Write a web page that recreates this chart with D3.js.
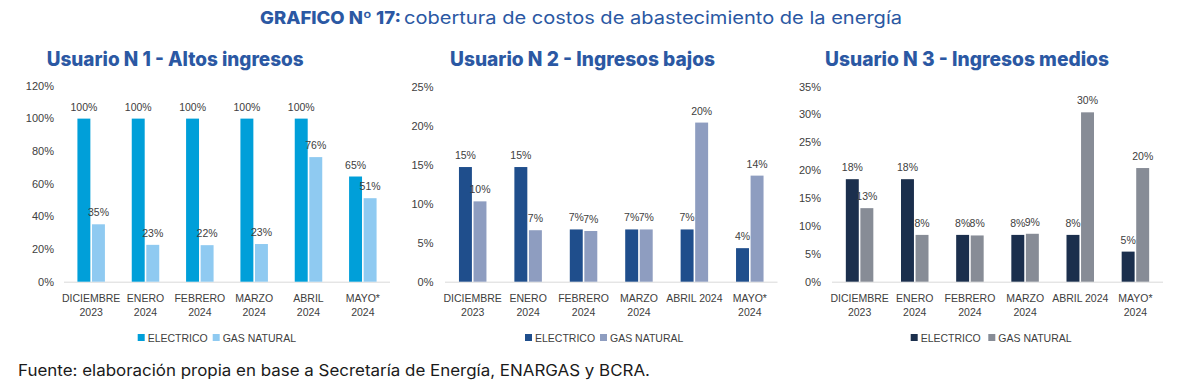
<!DOCTYPE html>
<html><head><meta charset="utf-8">
<script src="https://cdn.jsdelivr.net/npm/d3@7"></script>
<style>body{margin:0;background:#fff}svg{display:block}</style>
</head><body>
<svg id="c" width="1188" height="386"></svg>
<script>
// ---- data ----
const catsA = ["DICIEMBRE\n2023","ENERO\n2024","FEBRERO\n2024","MARZO\n2024","ABRIL\n2024","MAYO*\n2024"];
const catsB = ["DICIEMBRE\n2023","ENERO\n2024","FEBRERO\n2024","MARZO\n2024","ABRIL 2024","MAYO*\n2024"];
const seriesNames = ["ELECTRICO","GAS NATURAL"];
const u1Electrico = [100,100,100,100,100,64.5];
const u1Gas = [35.2,22.6,22.4,23.1,76.4,51.2];
const u1Ticks = [0,20,40,60,80,100,120];
const u2Electrico = [14.7,14.7,6.7,6.7,6.7,4.3];
const u2Gas = [10.3,6.6,6.5,6.7,20.4,13.6];
const u2Ticks = [0,5,10,15,20,25];
const u3Electrico = [18.4,18.4,8.4,8.4,8.4,5.4];
const u3Gas = [13.2,8.4,8.3,8.6,30.4,20.4];
const u3Ticks = [0,5,10,15,20,25,30,35];
const titles = ["Usuario N 1 - Altos ingresos","Usuario N 2 - Ingresos bajos","Usuario N 3 - Ingresos medios"];

const svg = d3.select("#c");
const BLUE = "#2b58a3";
const TXT = "#404040";
const FONT = "'Liberation Sans', Arial, sans-serif";
const TFONT = "Inter, 'Open Sans', sans-serif";

// main title
const mt = svg.append("text").attr("y",24).attr("font-family",TFONT).attr("font-size",17.5).attr("fill",BLUE);
mt.append("tspan").attr("x",260).attr("font-weight",800).attr("textLength",141).attr("lengthAdjust","spacingAndGlyphs").text("GRAFICO Nº 17:");
mt.append("tspan").attr("x",404).attr("font-weight",400).attr("textLength",498).attr("lengthAdjust","spacingAndGlyphs").text("cobertura de costos de abastecimiento de la energía");

// footer
svg.append("text").attr("x",18).attr("y",376).attr("font-family",TFONT).attr("font-size",15.5)
  .attr("fill","#1a1a1a").attr("textLength",632).attr("lengthAdjust","spacingAndGlyphs")
  .text("Fuente: elaboración propia en base a Secretaría de Energía, ENARGAS y BCRA.");

const panels = [
  {cats:catsA, e:u1Electrico, g:u1Gas, ticks:u1Ticks, max:120, x0:64, x1:390, yTop:86, lab:54,
   colors:["#009fd9","#8fcaf1"], title:titles[0], tx:46.7, tw:257, leg:[137.7,212.7]},
  {cats:catsB, e:u2Electrico, g:u2Gas, ticks:u2Ticks, max:25, x0:445, x1:777.5, yTop:86.7, lab:433.5,
   colors:["#1f4e8c","#8e9dc0"], title:titles[1], tx:450, tw:265, leg:[525,600]},
  {cats:catsB, e:u3Electrico, g:u3Gas, ticks:u3Ticks, max:35, x0:832, x1:1163, yTop:86.7, lab:821,
   colors:["#1b2f4d","#878c96"], title:titles[2], tx:825, tw:284, leg:[910.7,988.3]}
];

const Y0 = 281.7;
panels.forEach(p=>{
  const g = svg.append("g");
  g.append("text").attr("x",p.tx).attr("y",66).attr("font-family",TFONT).attr("font-weight",800)
    .attr("font-size",19.5).attr("fill",BLUE).attr("textLength",p.tw).attr("lengthAdjust","spacingAndGlyphs").text(p.title);
  const x = d3.scaleBand().domain(p.cats).range([p.x0,p.x1]).padding(0);
  const y = d3.scaleLinear().domain([0,p.max]).range([Y0,p.yTop]);
  const sub = d3.scaleBand().domain(seriesNames).range([-13.75,13.75]).paddingInner(0.11);
  // y labels
  g.selectAll(".yt").data(p.ticks).join("text").attr("x",p.lab).attr("y",d=>y(d)).attr("dy","0.35em")
    .attr("text-anchor","end").attr("font-family",FONT).attr("font-size",11).attr("fill",TXT).text(d=>d+"%");
  // baseline
  g.append("line").attr("x1",p.x0).attr("x2",p.x1).attr("y1",Y0+0.5).attr("y2",Y0+0.5).attr("stroke","#d9d9d9").attr("stroke-width",1);
  // bars
  const rows = p.cats.map((c,i)=>({c, vals:[p.e[i],p.g[i]]}));
  const grp = g.selectAll(".grp").data(rows).join("g").attr("transform",d=>`translate(${x(d.c)+x.bandwidth()/2},0)`);
  grp.selectAll("rect").data(d=>d.vals.map((v,k)=>({v,k}))).join("rect")
    .attr("x",d=>sub(seriesNames[d.k])).attr("width",sub.bandwidth())
    .attr("y",d=>y(d.v)).attr("height",d=>Y0-y(d.v)).attr("fill",d=>p.colors[d.k]);
  grp.selectAll(".vl").data(d=>d.vals.map((v,k)=>({v,k}))).join("text")
    .attr("x",d=>sub(seriesNames[d.k])+sub.bandwidth()/2).attr("y",d=>y(d.v)-8)
    .attr("text-anchor","middle").attr("font-family",FONT).attr("font-size",10.5).attr("fill",TXT)
    .text(d=>Math.round(d.v)+"%");
  // category labels
  grp.each(function(d){
    const lines = d.c.split("\n");
    const t = d3.select(this).append("text").attr("text-anchor","middle").attr("font-family",FONT)
      .attr("font-size",10.5).attr("fill",TXT);
    lines.forEach((l,i)=>t.append("tspan").attr("x",0).attr("y",301.5+i*14.5).text(l));
  });
  // legend
  seriesNames.forEach((s,k)=>{
    g.append("rect").attr("x",p.leg[k]).attr("y",334).attr("width",7).attr("height",7).attr("fill",p.colors[k]);
    g.append("text").attr("x",p.leg[k]+10).attr("y",341.5).attr("font-family",FONT).attr("font-size",10.5)
      .attr("fill",TXT).text(s);
  });
});
</script>
</body></html>
